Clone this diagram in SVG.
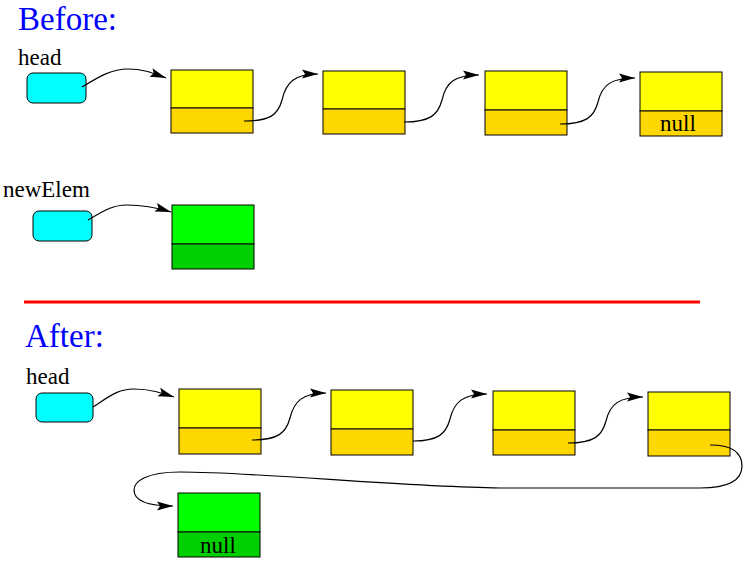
<svg xmlns="http://www.w3.org/2000/svg" width="750" height="565" viewBox="0 0 750 565">
<style>
.title{font-family:"Liberation Serif","Times New Roman",serif;font-size:33px;fill:#0000ff}
.lbl{font-family:"Liberation Serif","Times New Roman",serif;font-size:23px;fill:#000}
.ptr{fill:#00ffff;stroke:#000;stroke-width:1}
.top{fill:#ffff00;stroke:#000;stroke-width:1}
.bot{fill:#ffd700;stroke:#000;stroke-width:1}
.gtop{fill:#00ff00;stroke:#000;stroke-width:1}
.gbot{fill:#00d000;stroke:#000;stroke-width:1}
.c{fill:none;stroke:#000;stroke-width:1.2;marker-end:url(#ah)}
</style>
<defs>
<marker id="ah" markerWidth="17" markerHeight="10" refX="16" refY="5" orient="auto" markerUnits="userSpaceOnUse">
<path d="M0,0.5 L16,5 L0,9.5 L3,5 Z" fill="#000"/>
</marker>
</defs>
<rect width="750" height="565" fill="#fff"/>
<text class="title" x="18" y="30">Before:</text>
<text class="title" x="25" y="347">After:</text>
<line x1="24" y1="302" x2="700" y2="302" stroke="#ff0000" stroke-width="3"/>

<g id="before-head"><text class="lbl" x="18" y="65">head</text><rect class="ptr" x="27" y="73" width="59" height="30" rx="6"/></g>
<g id="before-n1"><rect class="top" x="171" y="70" width="82" height="38"/><rect class="bot" x="171" y="108" width="82" height="25"/></g>
<g id="before-n2"><rect class="top" x="323" y="71" width="82" height="38"/><rect class="bot" x="323" y="109" width="82" height="25"/></g>
<g id="before-n3"><rect class="top" x="485" y="71" width="82" height="39"/><rect class="bot" x="485" y="110" width="82" height="25"/></g>
<g id="before-n4"><rect class="top" x="640" y="72" width="82" height="39"/><rect class="bot" x="640" y="111" width="82" height="25"/><text class="lbl" x="678" y="131" text-anchor="middle">null</text></g>
<g id="before-newElem"><text class="lbl" x="3" y="197">newElem</text><rect class="ptr" x="33" y="211" width="59" height="30" rx="6"/></g>
<g id="before-green"><rect class="gtop" x="172" y="205" width="82" height="39"/><rect class="gbot" x="172" y="244" width="82" height="25"/></g>

<g id="after-head"><text class="lbl" x="26" y="384">head</text><rect class="ptr" x="36" y="393" width="57" height="29" rx="6"/></g>
<g id="after-n1"><rect class="top" x="179" y="389" width="82" height="39"/><rect class="bot" x="179" y="428" width="82" height="26"/></g>
<g id="after-n2"><rect class="top" x="331" y="390" width="82" height="39"/><rect class="bot" x="331" y="429" width="82" height="26"/></g>
<g id="after-n3"><rect class="top" x="493" y="391" width="82" height="39"/><rect class="bot" x="493" y="430" width="82" height="25"/></g>
<g id="after-n4"><rect class="top" x="648" y="392" width="82" height="38"/><rect class="bot" x="648" y="430" width="82" height="26"/></g>
<g id="after-green"><rect class="gtop" x="178" y="493" width="82" height="39"/><rect class="gbot" x="178" y="532" width="82" height="25"/><text class="lbl" x="218" y="553" text-anchor="middle">null</text></g>

<g id="connectors">
<path class="c" d="M82,87 C100,76 112,69 128,69 C145,69 155,74 166,78"/>
<path class="c" d="M244,121 C270,121 278,115 282,100 C286,82 295,74 318,74"/>
<path class="c" d="M404,122 C430,122 438,115 442,100 C446,82 455,75 479,75"/>
<path class="c" d="M560,124 C586,124 594,117 598,102 C602,85 611,78 635,78"/>
<path class="c" d="M88,220 C105,210 113,205 127,205 C145,205 158,208 171,212"/>
<path class="c" d="M93,407 C110,396 118,389 134,389 C150,389 162,393 174,397"/>
<path class="c" d="M252,440 C278,440 286,433 290,418 C294,401 303,393 326,393"/>
<path class="c" d="M413,441 C438,441 446,434 450,419 C454,402 463,394 487,394"/>
<path class="c" d="M568,443 C594,443 602,436 606,421 C610,404 619,397 643,397"/>
<path class="c" d="M710,445 C732,445 742,453 742,466 C742,480 728,488 700,488 L500,488 C400,487 260,472 180,472 C145,472 134,482 134,490 C134,500 145,506 173,506"/>
</g>
</svg>
